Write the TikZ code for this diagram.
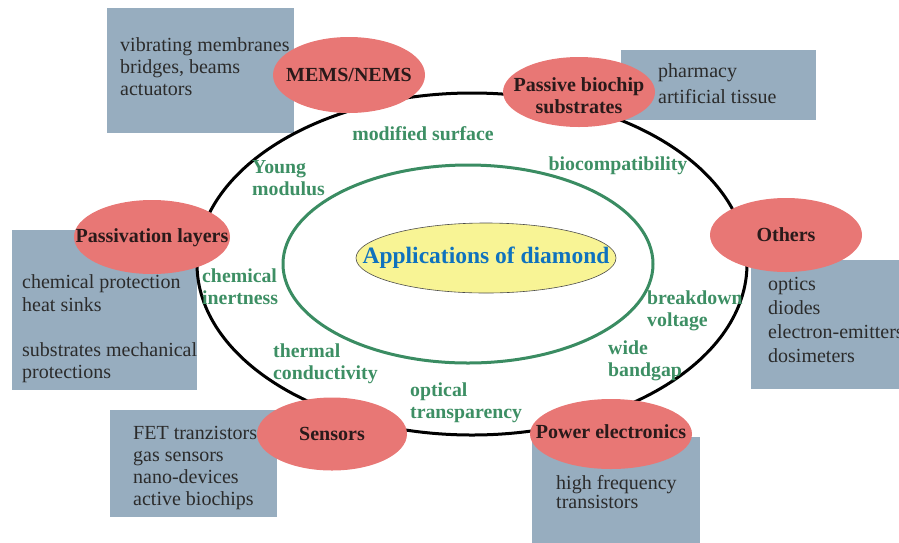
\documentclass[tikz,border=0pt]{standalone}
\usepackage{fontspec}
\setmainfont{Liberation Serif}
\usetikzlibrary{shapes.geometric}
\definecolor{redfill}{HTML}{E87775}
\definecolor{boxfill}{HTML}{97ADBF}
\definecolor{greentext}{HTML}{3D8F64}
\definecolor{greenline}{HTML}{3A8C62}
\definecolor{bluetext}{HTML}{0F72BE}
\definecolor{yellowfill}{HTML}{F8F495}
\definecolor{boxtext}{HTML}{2B2B2B}
\definecolor{redtext}{HTML}{2A1A1A}
\begin{document}
\begin{tikzpicture}[x=1pt,y=-1pt,
  area/.style={ellipse, fill=redfill, draw=none, inner sep=0pt},
  areatext/.style={inner sep=0pt, text=redtext, align=center,
    font=\bfseries\fontsize{20}{22}\selectfont},
  infobox/.style={rectangle, fill=boxfill, draw=none, anchor=north west, inner sep=0pt},
  infotext/.style={anchor=west, inner sep=0pt, align=left, text=boxtext},
  property/.style={inner sep=0pt, align=left, text=greentext,
    font=\bfseries\fontsize{19.8}{22}\selectfont},
]
\useasboundingbox (0,0) rectangle (899,542);
\clip (0,0) rectangle (899,542);

% grey-blue example boxes
\node[infobox, minimum width=187pt, minimum height=125pt] (memsbox) at (107,8) {};
\node[infobox, minimum width=195pt, minimum height=70pt] (biobox) at (621,50) {};
\node[infobox, minimum width=185pt, minimum height=160pt] (passbox) at (12,230) {};
\node[infobox, minimum width=160pt, minimum height=129pt] (othbox) at (751,260) {};
\node[infobox, minimum width=167pt, minimum height=107pt] (senbox) at (110,410) {};
\node[infobox, minimum width=168pt, minimum height=110pt] (powbox) at (532,437) {};

% rings
\node[draw=black, line width=3pt, ellipse, minimum width=550pt, minimum height=342pt, inner sep=0pt] (ring) at (472,264) {};
\node[draw=greenline, line width=3pt, ellipse, minimum width=370pt, minimum height=198pt, inner sep=0pt] (inner) at (468,264) {};

% centre
\node[ellipse, draw=black!70, line width=0.6pt, fill=yellowfill, minimum width=260pt, minimum height=70pt, inner sep=0pt,
  label={[inner sep=0pt, text=bluetext, font=\bfseries\fontsize{23.5}{26}\selectfont]center:Applications of diamond}] (core) at (486,258) {};

% application areas
\node[area, minimum width=152pt, minimum height=76pt, label={[areatext]center:MEMS/NEMS}] (mems) at (349,75) {};
\node[area, minimum width=152pt, minimum height=70pt, label={[areatext, yshift=-4pt]center:Passive biochip\\substrates}] (bio) at (579,92) {};
\node[area, minimum width=156pt, minimum height=74pt, label={[areatext, yshift=-1pt]center:Passivation layers}] (pass) at (152,237) {};
\node[area, minimum width=152pt, minimum height=74pt, label={[areatext]center:Others}] (oth) at (786,235) {};
\node[area, minimum width=150pt, minimum height=73pt, label={[areatext]center:Sensors}] (sen) at (332,434) {};
\node[area, minimum width=162pt, minimum height=70pt, label={[areatext, yshift=2pt]center:Power electronics}] (pow) at (611,434) {};

% example texts
\node[infotext, font=\fontsize{20}{22}\selectfont] (memstxt) at (120,67) {vibrating membranes\\bridges, beams\\actuators};
\node[infotext, font=\fontsize{20}{26}\selectfont] (biotxt) at (658,84) {pharmacy\\artificial tissue};
\node[infotext, font=\fontsize{20}{22.5}\selectfont] (passtxt) at (22,329) {chemical protection\\heat sinks\\[22.5pt]substrates mechanical\\protections};
\node[infotext, font=\fontsize{20}{24}\selectfont] (othtxt) at (768,320) {optics\\diodes\\electron-emitters\\dosimeters};
\node[infotext, font=\fontsize{20}{22}\selectfont] (sentxt) at (133,468) {FET tranzistors\\gas sensors\\nano-devices\\active biochips};
\node[infotext, font=\fontsize{20}{16}\selectfont] (powtxt) at (556,492) {high frequency\\transistors};

% diamond properties
\node[property] (surf) at (423,134) {modified surface};
\node[property] (biocomp) at (618,166) {biocompatibility};
\node[property, anchor=west] (young) at (252,178) {Young\\modulus};
\node[property, anchor=west] (chem) at (202,287) {chemical\\inertness};
\node[property, anchor=west] (brk) at (647,311) {breakdown\\voltage};
\node[property, anchor=west] (gap) at (608,361) {wide\\bandgap};
\node[property, anchor=west] (therm) at (273,364) {thermal\\conductivity};
\node[property, anchor=west] (opt) at (410,403) {optical\\transparency};
\end{tikzpicture}
\end{document}
